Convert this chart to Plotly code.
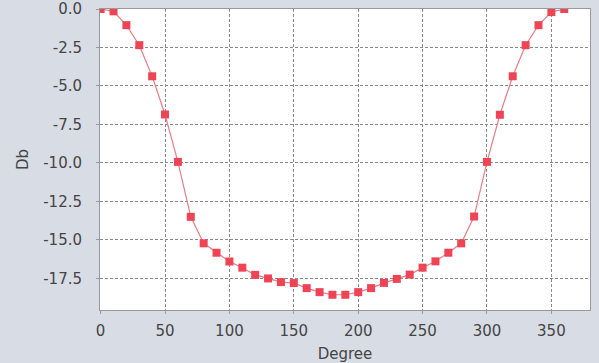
import plotly.graph_objects as go

degrees = [0, 10, 20, 30, 40, 50, 60, 70, 80, 90, 100, 110, 120, 130, 140, 150, 160, 170, 180,
           190, 200, 210, 220, 230, 240, 250, 260, 270, 280, 290, 300, 310, 320, 330, 340, 350, 360]
db = [0.0, -0.15, -1.05, -2.35, -4.37, -6.85, -9.93, -13.5, -15.22, -15.83, -16.4, -16.8, -17.27,
      -17.5, -17.74, -17.8, -18.13, -18.39, -18.56, -18.56, -18.39, -18.13, -17.79, -17.53, -17.25,
      -16.8, -16.39, -15.83, -15.22, -13.48, -9.93, -6.87, -4.37, -2.35, -1.05, -0.2, 0.0]
x_ticks = [0, 50, 100, 150, 200, 250, 300, 350]
y_ticks = [0.0, -2.5, -5.0, -7.5, -10.0, -12.5, -15.0, -17.5]

fig = go.Figure()
fig.add_trace(go.Scatter(
    x=degrees, y=db, mode="lines+markers",
    line=dict(color="#f07a86", width=1.2),
    marker=dict(symbol="square", size=8, color="#ee4455"),
    cliponaxis=True,
))

font = dict(family="DejaVu Sans, sans-serif", size=15, color="#454545")

fig.update_layout(
    width=599, height=363,
    margin=dict(l=100, r=9, t=9, b=53),
    paper_bgcolor="#d8dce4",
    plot_bgcolor="#ffffff",
    showlegend=False,
    font=font,
)
fig.update_xaxes(
    range=[-0.5, 380], tickvals=x_ticks, ticktext=[str(v) for v in x_ticks],
    showgrid=True, gridcolor="#8a8a8a", griddash="3px,2px", gridwidth=1,
    showline=True, linecolor="#999999", linewidth=1, mirror=True,
    ticks="outside", ticklen=3, tickcolor="#999999",
    zeroline=False, ticklabelstandoff=4, ticklabeloverflow="allow",
    automargin=False,
    title=dict(text="Degree", font=font, standoff=10),
)
fig.update_yaxes(
    range=[-19.55, 0], tickvals=y_ticks, ticktext=[f"{v:.1f}" for v in y_ticks],
    showgrid=True, gridcolor="#8a8a8a", griddash="3px,2px", gridwidth=1,
    showline=True, linecolor="#999999", linewidth=1, mirror=True,
    ticks="outside", ticklen=3, tickcolor="#999999",
    zeroline=False, ticklabelstandoff=11, ticklabeloverflow="allow",
    automargin=False,
    title=dict(text="Db", font=font, standoff=10),
)
fig.write_html("out.html")
